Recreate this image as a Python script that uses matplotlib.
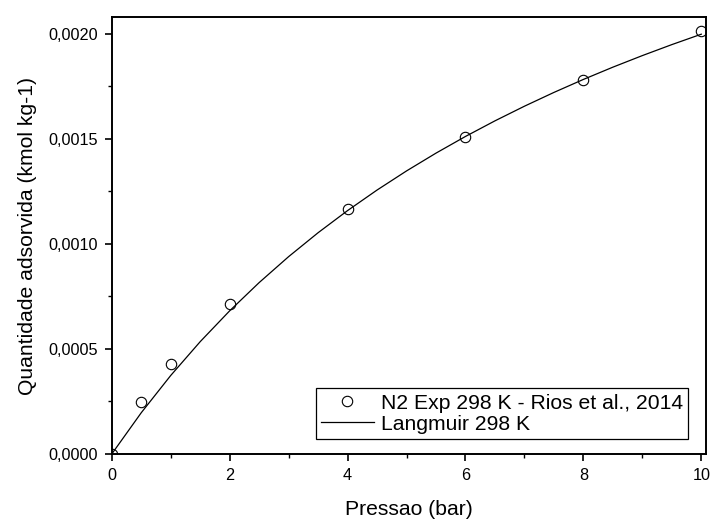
import matplotlib
matplotlib.use("Agg")
import matplotlib.pyplot as plt
from matplotlib.ticker import MultipleLocator, FuncFormatter

plt.rcParams['font.family'] = ['Liberation Sans', 'DejaVu Sans']

# Experimental data (N2, 298 K)
p_exp = [0, 0.5, 1, 2, 4, 6, 8, 10]
q_exp = [0.0, 0.000247, 0.000428, 0.000716, 0.001165, 0.001508, 0.001783, 0.002015]

# Langmuir curve values
p_fit = [0, 0.5, 1, 1.5, 2, 2.5, 3, 3.5, 4, 4.5, 5, 5.5, 6, 6.5, 7, 7.5, 8, 8.5, 9, 9.5, 10]
q_fit = [0.0, 0.0001964, 0.0003738, 0.0005348, 0.0006817, 0.0008161, 0.0009397,
         0.0010536, 0.0011590, 0.0012568, 0.0013478, 0.0014326, 0.0015120,
         0.0015863, 0.0016560, 0.0017216, 0.0017835, 0.0018419, 0.0018970,
         0.0019493, 0.0019989]

fig = plt.figure(figsize=(7.12, 5.2), dpi=100)
ax = fig.add_axes([0.157, 0.127, 0.9916 - 0.157, 0.967 - 0.127])

ax.plot(p_exp, q_exp, linestyle='none', marker='o', markersize=7.5,
        markerfacecolor='none', markeredgecolor='black', markeredgewidth=0.8,
        label='N2 Exp 298 K - Rios et al., 2014')
ax.plot(p_fit, q_fit, color='black', linewidth=0.9, label='Langmuir 298 K')

ax.set_xlim(0, 10.08)
ax.set_ylim(0, 0.00208)
ax.xaxis.set_major_locator(MultipleLocator(2))
ax.xaxis.set_minor_locator(MultipleLocator(1))
ax.yaxis.set_major_locator(MultipleLocator(0.0005))
ax.yaxis.set_minor_locator(MultipleLocator(0.00025))
ax.yaxis.set_major_formatter(FuncFormatter(lambda v, pos: f"{v:.4f}".replace('.', ',')))

ax.tick_params(which='major', direction='out', length=5, width=1.2, labelsize=11.7, pad=5)
ax.tick_params(which='minor', direction='out', length=3, width=1.0)
for s in ax.spines.values():
    s.set_linewidth(1.4)

ax.set_xlabel('Pressao (bar)', fontsize=15.2, labelpad=12)
ax.set_ylabel('Quantidade adsorvida (kmol kg-1)', fontsize=15.2, labelpad=8)

leg = ax.legend(loc='lower right', bbox_to_anchor=(0.970, 0.034), fontsize=15.2,
                frameon=True, fancybox=False, edgecolor='black', framealpha=1,
                handlelength=2.5, handletextpad=0.33, borderpad=0.25, labelspacing=0.1,
                borderaxespad=0)
leg.get_frame().set_linewidth(0.9)

fig.savefig('out.png', dpi=100)
